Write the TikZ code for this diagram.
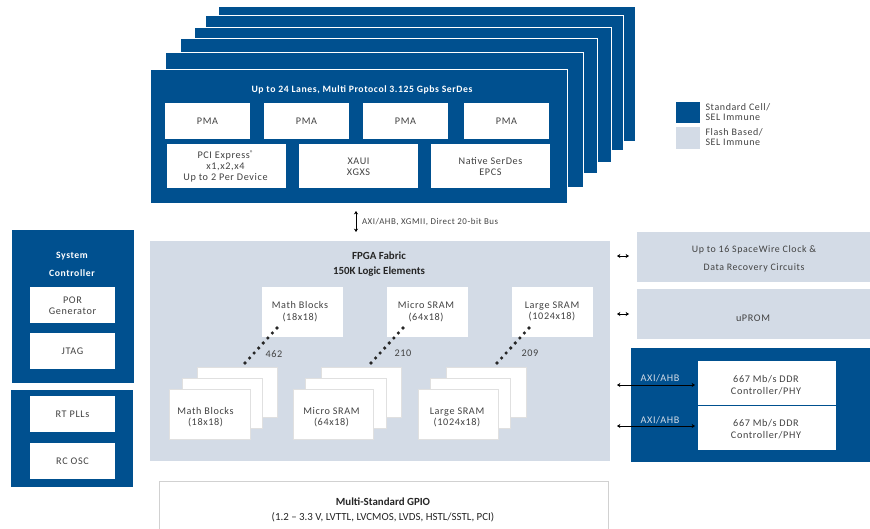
\documentclass[tikz,border=0pt]{standalone}
\usepackage{fontspec}
\setmainfont{Carlito}
\newfontfamily\spaced[LetterSpace=6]{Carlito}
\usetikzlibrary{arrows.meta}
\definecolor{mblue}{HTML}{00508F}
\definecolor{mlight}{HTML}{D3DBE6}
\definecolor{mtext}{HTML}{424242}
\newcommand{\bx}[7][]{%
  \node[#2,#1,minimum width={(#5-#3)*1pt},minimum height={(#6-#4)*1pt}] (#7) at ({(#3+#5)/2},{(#4+#6)/2}) {};}
\tikzset{
  base/.style={inner sep=0pt,outer sep=0pt,align=center},
  lbl/.style={base,yshift=-.7pt,text=mtext,font=\spaced\fontsize{10.2}{11.3}\selectfont},
  lblw/.style={base,yshift=-.7pt,text=white,font=\spaced\bfseries\fontsize{9.7}{11.2}\selectfont},
  lblb/.style={base,yshift=-1pt,text=black!85,font=\bfseries\fontsize{10.9}{14.3}\selectfont},
  sm/.style={base,yshift=-.7pt,text=mtext,font=\spaced\fontsize{8.9}{10}\selectfont},
  leg/.style={base,anchor=west,align=left,text=mtext,font=\spaced\fontsize{10}{10.7}\selectfont},
  bluebox/.style={base,fill=mblue},
  layer/.style={base,fill=mblue,draw=white,line width=.7pt},
  lightbox/.style={base,fill=mlight},
  whitebox/.style={base,fill=white},
  stackbox/.style={base,fill=white,draw=black!12,line width=.8pt},
  bus/.style={{Stealth[length=3.4pt,width=4.2pt]}-{Stealth[length=3.4pt,width=4.2pt]},line width=.9pt,black},
  dotline/.style={line width=3.6pt,line cap=round,dash pattern=on 0pt off 6.77pt,black!85}
}
\begin{document}
\begin{tikzpicture}[x=1pt,y=-1pt]
\useasboundingbox (0,0) rectangle (870,529);
% SerDes stack
\bx{layer}{218.6}{6}{635}{141}{ser5}
\bx{layer}{205.6}{15}{623}{150}{ser4}
\bx{layer}{194.6}{27}{611}{162}{ser3}
\bx{layer}{180.6}{38}{597}{173}{ser2}
\bx{layer}{165.6}{52}{583}{187}{ser1}
\bx{layer}{150.6}{69}{567}{203}{ser0}
\node[lblw] (sertitle) at (362,89) {Up to 24 Lanes, Multi Protocol 3.125 Gpbs SerDes};
\bx{whitebox}{165}{103}{250}{139}{pma1}
\bx{whitebox}{264}{103}{349}{139}{pma2}
\bx{whitebox}{363}{103}{448}{139}{pma3}
\bx{whitebox}{464}{103}{549}{139}{pma4}
\node[lbl] at (pma1) {PMA};
\node[lbl] at (pma2) {PMA};
\node[lbl] at (pma3) {PMA};
\node[lbl] at (pma4) {PMA};
\bx{whitebox}{167}{144}{286}{188}{pci}
\bx{whitebox}{299}{144}{418}{188}{xaui}
\bx{whitebox}{431}{144}{550}{188}{native}
\node[lbl] at (225.5,166) {PCI Express\raisebox{2.5pt}{\fontsize{7}{7}\selectfont\textregistered}\\x1,x2,x4\\Up to 2 Per Device};
\node[lbl] at (xaui) {XAUI\\XGXS};
\node[lbl] at (native) {Native SerDes\\EPCS};
% legend
\bx{bluebox}{676}{102}{700}{123}{legA}
\bx{lightbox}{676}{127}{700}{149}{legB}
\node[leg] (legAt) at (705.5,112) {Standard Cell/\\SEL Immune};
\node[leg] (legBt) at (705.5,137) {Flash Based/\\SEL Immune};
% bus
\bx{lightbox}{150}{241}{610}{461}{fabric}
\coordinate (busA) at (356,211);
\coordinate (busB) at (356,232);
\draw[bus] (busA) -- (busB);
\node[sm,anchor=west] (buslabel) at (362,221) {AXI/AHB, XGMII, Direct 20-bit Bus};
\node[lblb] (fabtitle) at (379,263) {FPGA Fabric\\150K Logic Elements};
% fabric tops
\bx{whitebox}{262}{287}{343}{337}{mathT}
\bx{whitebox}{387}{287}{468}{337}{microT}
\bx{whitebox}{512}{287}{593}{337}{largeT}
\node[lbl] at (300,311) {Math Blocks\\(18x18)};
\node[lbl] at (426,311) {Micro SRAM\\(64x18)};
\node[lbl] at (552,311) {Large SRAM\\(1024x18)};
% stacks
\bx{stackbox}{197}{367}{277}{417}{mathS3}
\bx{stackbox}{182}{378}{262}{428}{mathS2}
\bx{stackbox}{169}{389}{250}{439}{mathS1}
\bx{stackbox}{321}{367}{401}{417}{microS3}
\bx{stackbox}{305}{378}{386}{428}{microS2}
\bx{stackbox}{293}{389}{373}{439}{microS1}
\bx{stackbox}{446}{367}{526}{417}{largeS3}
\bx{stackbox}{430}{378}{510}{428}{largeS2}
\bx{stackbox}{418}{389}{498}{439}{largeS1}
\node[lbl] at (205.5,416.5) {Math Blocks\\(18x18)};
\node[lbl] at (331.5,416.5) {Micro SRAM\\(64x18)};
\node[lbl] at (457,416.5) {Large SRAM\\(1024x18)};
\coordinate (d1a) at (245,363); \coordinate (d1b) at (277,328);
\coordinate (d2a) at (371,363); \coordinate (d2b) at (403,328);
\coordinate (d3a) at (497,363); \coordinate (d3b) at (529,328);
\draw[dotline] (d1a) -- (d1b);
\draw[dotline] (d2a) -- (d2b);
\draw[dotline] (d3a) -- (d3b);
\node[lbl] (n462) at (274,353) {462};
\node[lbl] (n210) at (403,353) {210};
\node[lbl] (n209) at (530,353) {209};
% right column
\bx{lightbox}{637}{232}{870}{282}{spw}
\bx{lightbox}{637}{289}{870}{339}{uprom}
\node[lbl,font=\spaced\fontsize{9.9}{18}\selectfont] at (754,258) {Up to 16 SpaceWire Clock \&\\Data Recovery Circuits};
\node[lbl] at (753,318) {uPROM};
\coordinate (a1l) at (617,256); \coordinate (a1r) at (629,256);
\coordinate (a2l) at (617,314); \coordinate (a2r) at (629,314);
\draw[bus] (a1l) -- (a1r);
\draw[bus] (a2l) -- (a2r);
\bx{bluebox}{631}{348}{870}{462}{ddrbg}
\bx{whitebox}{698}{361}{836}{405}{ddr1}
\bx{whitebox}{698}{406}{836}{450}{ddr2}
\node[lbl] at (766,384.5) {667 Mb/s DDR\\Controller/PHY};
\node[lbl] at (766,428.5) {667 Mb/s DDR\\Controller/PHY};
\coordinate (b1l) at (617,385); \coordinate (b2l) at (617,426);
\draw[bus] (b1l) -- ([xshift=-3pt]ddr1.west |- b1l);
\draw[bus] (b2l) -- ([xshift=-3pt]ddr2.west |- b2l);
\node[lbl,text=mlight] at (660,377) {AXI/AHB};
\node[lbl,text=mlight] at (660,419) {AXI/AHB};
% left column
\bx{bluebox}{12}{230}{134}{383}{sys}
\node[lblw,font=\spaced\bfseries\fontsize{9.7}{18}\selectfont] at (72,264) {System\\Controller};
\bx{whitebox}{30}{287}{115}{323}{por}
\bx{whitebox}{30}{333}{115}{369}{jtag}
\node[lbl] at (por) {POR\\Generator};
\node[lbl] at (jtag) {JTAG};
\bx{bluebox}{11}{390}{133}{487}{clk}
\bx{whitebox}{30}{396}{115}{432}{pll}
\bx{whitebox}{30}{443}{115}{479}{osc}
\node[lbl] at (pll) {RT PLLs};
\node[lbl] at (osc) {RC OSC};
% GPIO
\draw[black!18,line width=1pt,fill=white] (159,540) |- (608,481) -- (608,540);
\node[lblb] (gpio) at (383,509) {Multi-Standard GPIO\\{\normalfont (1.2 -- 3.3 V, LVTTL, LVCMOS, LVDS, HSTL/SSTL, PCI)}};
\end{tikzpicture}
\end{document}
